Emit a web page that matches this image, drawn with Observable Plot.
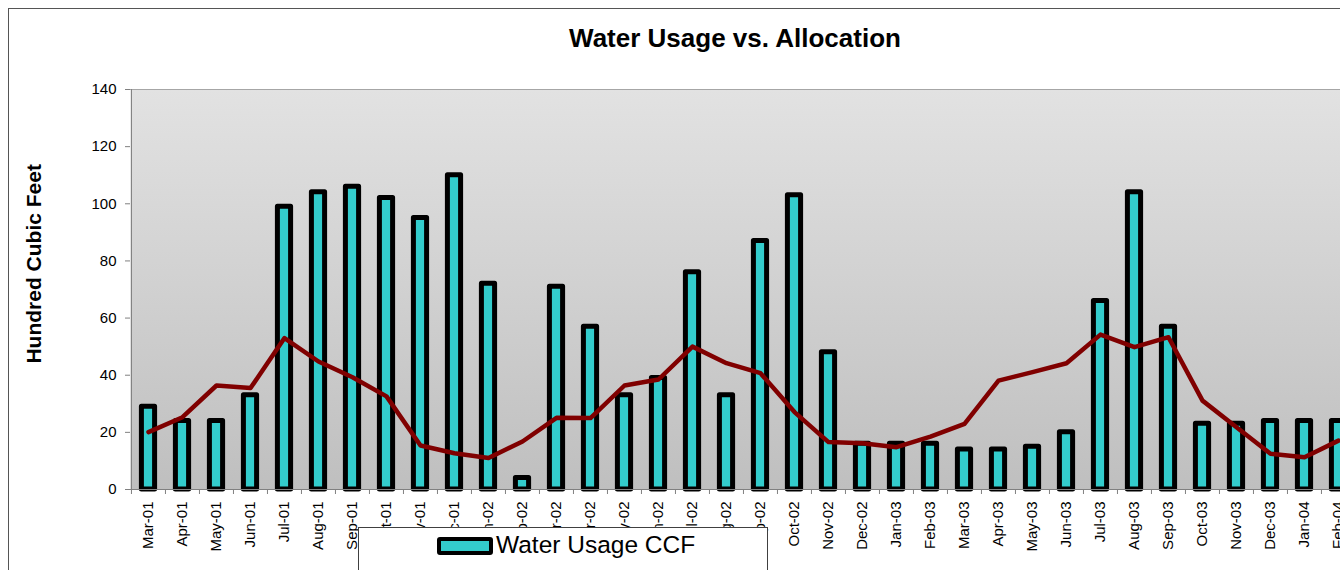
<!DOCTYPE html>
<html>
<head>
<meta charset="utf-8">
<script src="https://cdn.jsdelivr.net/npm/d3@7"></script>
<script src="https://cdn.jsdelivr.net/npm/@observablehq/plot@0.6"></script>
<style>
  html, body { margin: 0; padding: 0; background: #fff; overflow: hidden; }
  #wrap { position: relative; width: 1340px; height: 570px; overflow: hidden; font-family: Arial, "Liberation Sans", sans-serif; }
  #border { position: absolute; left: 8px; top: 8px; width: 2000px; height: 2000px; border: 1px solid #555; pointer-events: none; }
  #legend { position: absolute; left: 358px; top: 527px; width: 408px; height: 70px; border: 1px solid #404040; background: #fff; }
  #legend .sw { position: absolute; left: 78px; top: 9px; width: 48px; height: 10px; border: 4px solid #000; border-radius: 3px; background: #33cccc; }
  #legend .lb { position: absolute; left: 137px; top: 3px; font-size: 24.5px; line-height: 28px; color: #000; white-space: nowrap; }
</style>
</head>
<body>
<div id="wrap">
  <div id="chart"></div>
  <div id="border"></div>
  <div id="legend"><div class="sw"></div><div class="lb">Water Usage CCF</div></div>
</div>
<script>
const months = ["Mar-01","Apr-01","May-01","Jun-01","Jul-01","Aug-01","Sep-01","Oct-01","Nov-01","Dec-01","Jan-02",
  "Feb-02","Mar-02","Apr-02","May-02","Jun-02","Jul-02","Aug-02","Sep-02","Oct-02","Nov-02","Dec-02","Jan-03",
  "Feb-03","Mar-03","Apr-03","May-03","Jun-03","Jul-03","Aug-03","Sep-03","Oct-03","Nov-03","Dec-03","Jan-04","Feb-04"];
const usage = [29,24,24,33,99,104,106,102,95,110,72,
  4,71,57,33,39,76,33,87,103,48,16,16,
  16,14,14,15,20,66,104,57,23,23,24,24,24];
const allocation = [20.1,25.3,36.4,35.5,53.0,44.8,39.3,32.6,15.4,12.7,11.0,
  16.8,25.1,25.0,36.4,38.5,50.0,44.2,40.7,27.1,16.6,16.2,14.8,
  18.5,23.0,38.1,41.1,44.2,54.2,49.8,53.3,31.1,21.8,12.5,11.3,17.1];
const yTicks = [0,20,40,60,80,100,120,140];
const title = "Water Usage vs. Allocation";
const yLabel = "Hundred Cubic Feet";

const data = months.map((m, i) => ({month: m, usage: usage[i], allocation: allocation[i]}));

const bw = 34.07;
const mLeft = 130, W = 1360;
const mRight = W - mLeft - bw * months.length;
const font = 'Arial, "Liberation Sans", sans-serif';

const chart = Plot.plot({
  width: W,
  height: 570,
  marginLeft: mLeft,
  marginRight: mRight,
  marginTop: 89,
  marginBottom: 81,
  style: {fontFamily: font, color: "#000", background: "transparent", maxWidth: "none", overflow: "visible"},
  x: {type: "band", domain: months, padding: 0, label: null},
  y: {domain: [0, 140], label: null},
  marks: [
    Plot.frame({fill: "url(#bgGrad)", stroke: null}),
    Plot.ruleY([140], {stroke: "#a6a6a6", strokeWidth: 1}),
    Plot.barY(data, {x: "month", y: "usage", fill: "#33cccc", stroke: "#000", strokeWidth: 5,
      strokeLinejoin: "round", insetLeft: 10.4, insetRight: 10.4}),
    Plot.ruleY([0], {stroke: "#808080", strokeWidth: 1}),
    Plot.ruleX([months[0]], {y1: 0, y2: 140, dx: -bw / 2, stroke: "#808080", strokeWidth: 1}),
    Plot.ruleX(months, {y1: 0, y2: -1.75, dx: -bw / 2, stroke: "#808080", strokeWidth: 1}),
    Plot.lineY(data, {x: "month", y: "allocation", stroke: "#800000", strokeWidth: 4.5, strokeLinejoin: "round"}),
    Plot.axisY(yTicks, {tickSize: 5, tickPadding: 9, fontSize: 15, stroke: "#808080", fill: "#000", label: null}),
    Plot.axisX(months, {tickSize: 0, tickPadding: 12, tickRotate: -90, fontSize: 15, fill: "#000", label: null}),
    Plot.text([title], {frameAnchor: "top", dx: -8.75, dy: -50.5, lineAnchor: "middle", textAnchor: "middle",
      fontSize: 26, fontWeight: "bold", fill: "#000"}),
    Plot.text([yLabel], {frameAnchor: "left", dx: -96.5, dy: -25.7, rotate: -90, lineAnchor: "middle", textAnchor: "middle",
      fontSize: 21, fontWeight: "bold", fill: "#000"})
  ]
});

// gradient definition for the plot area background
const ns = "http://www.w3.org/2000/svg";
const defs = document.createElementNS(ns, "defs");
defs.innerHTML = '<linearGradient id="bgGrad" x1="0" y1="0" x2="0" y2="1">' +
  '<stop offset="0" stop-color="#e2e2e2"/><stop offset="1" stop-color="#bfbfbf"/></linearGradient>';
const frameRect = chart.querySelector("rect");
if (frameRect) frameRect.setAttribute("fill", "url(#bgGrad)");
chart.insertBefore(defs, chart.firstChild);
document.getElementById("chart").appendChild(chart);
</script>
</body>
</html>
